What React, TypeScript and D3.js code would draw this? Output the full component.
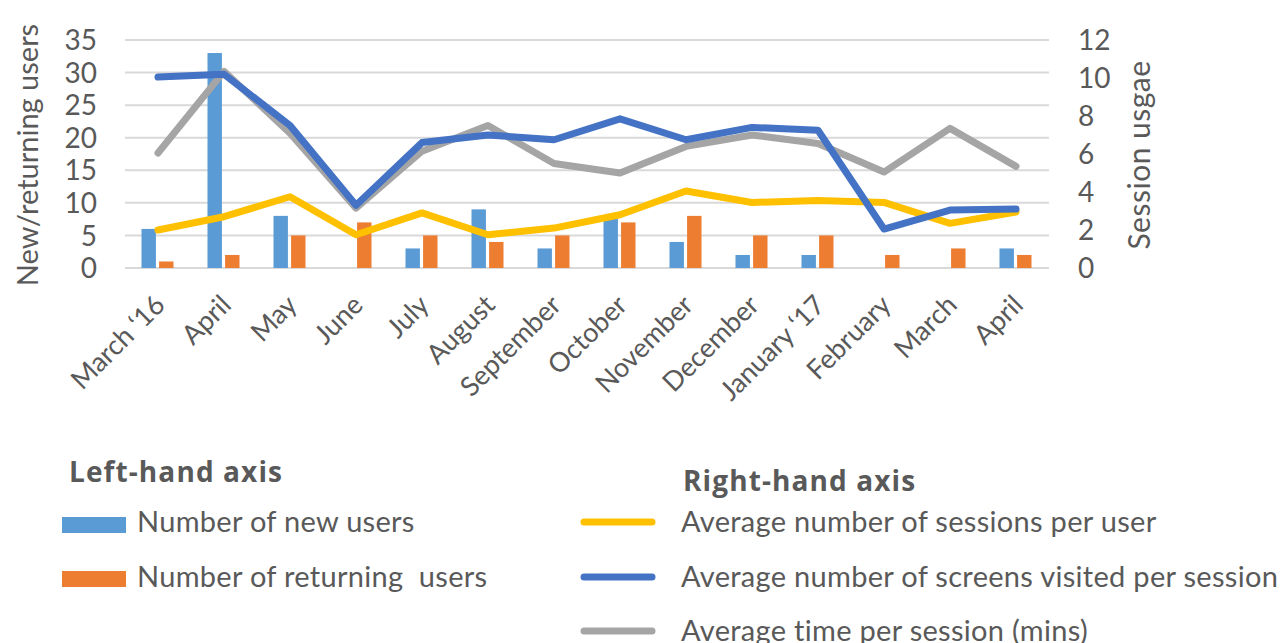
import React from "react";
import * as d3 from "d3";

const months = ["March ‘16", "April", "May", "June", "July", "August", "September", "October", "November", "December", "January ‘17", "February", "March", "April "];
const newUsers = [6, 33, 8, 0, 3, 9, 3, 8, 4, 2, 2, 0, 0, 3];
const returningUsers = [1, 2, 5, 7, 5, 4, 5, 7, 8, 5, 5, 2, 3, 2];
const sessionsPerUser = [2.0, 2.7, 3.75, 1.75, 2.9, 1.75, 2.1, 2.8, 4.05, 3.45, 3.55, 3.45, 2.35, 2.95];
const screensPerSession = [10.05, 10.2, 7.5, 3.3, 6.6, 7.0, 6.75, 7.85, 6.75, 7.4, 7.25, 2.05, 3.05, 3.1];
const timePerSession = [6.05, 10.35, 7.1, 3.15, 6.15, 7.5, 5.5, 5.0, 6.4, 7.0, 6.55, 5.05, 7.35, 5.35];
const leftTicks = [0, 5, 10, 15, 20, 25, 30, 35];
const rightTicks = [0, 2, 4, 6, 8, 10, 12];

const FONT = "Lato, 'Open Sans', sans-serif";
const BOLD_FONT = "'Open Sans', Lato, sans-serif";
const TEXT = "#595959";
const C_NEW = "#5B9BD5";
const C_RET = "#ED7D31";
const C_SESS = "#FFC000";
const C_SCREEN = "#4472C4";
const C_TIME = "#A5A5A5";

export default function App() {
  const W = 1281, H = 643;
  const x = d3.scaleBand<string>().domain(months).range([125, 1049]);
  const yL = d3.scaleLinear().domain([0, 35]).range([268, 40]);
  const yR = d3.scaleLinear().domain([0, 12]).range([268, 40]);
  const sub = d3.scaleBand<string>().domain(["new", "ret"]).range([-16.5, 15.5]).paddingInner(0.18);
  const cx = (m: string) => (x(m) as number) + x.bandwidth() / 2;

  const mkLine = (vals: number[]) =>
    d3.line<number>().x((_, i) => cx(months[i])).y((v) => yR(v))(vals) as string;

  const lines = [
    { vals: timePerSession, color: C_TIME },
    { vals: sessionsPerUser, color: C_SESS },
    { vals: screensPerSession, color: C_SCREEN },
  ];

  return (
    <svg width={W} height={H} style={{ position: "absolute", left: 0, top: 0, background: "#fff" }} fontFamily={FONT}>
      {/* gridlines */}
      {leftTicks.map((t) => (
        <line key={"g" + t} x1={125} x2={1049} y1={yL(t)} y2={yL(t)} stroke="#D9D9D9" strokeWidth={2} />
      ))}
      {/* left ticks */}
      {leftTicks.map((t) => (
        <text key={"l" + t} x={97} y={yL(t)} dy="0.36em" textAnchor="end" fontSize={28} fill={TEXT}>
          {t}
        </text>
      ))}
      {/* right ticks */}
      {rightTicks.map((t) => (
        <text key={"r" + t} x={1078} y={yR(t)} dy="0.36em" textAnchor="start" fontSize={28} fill={TEXT}>
          {t}
        </text>
      ))}
      {/* axis titles */}
      <text transform="translate(38,155) rotate(-90)" textAnchor="middle" fontSize={29} fill={TEXT}>
        New/returning users
      </text>
      <text transform="translate(1150,155) rotate(-90)" textAnchor="middle" fontSize={30} letterSpacing={0.5} fill={TEXT}>
        Session usgae
      </text>
      {/* bars */}
      {months.map((m, i) => (
        <g key={"b" + i}>
          {newUsers[i] > 0 && (
            <rect x={cx(m) + (sub("new") as number)} width={sub.bandwidth()} y={yL(newUsers[i])} height={yL(0) - yL(newUsers[i])} fill={C_NEW} />
          )}
          {returningUsers[i] > 0 && (
            <rect x={cx(m) + (sub("ret") as number)} width={sub.bandwidth()} y={yL(returningUsers[i])} height={yL(0) - yL(returningUsers[i])} fill={C_RET} />
          )}
        </g>
      ))}
      {/* lines */}
      {lines.map((l, i) => (
        <path key={"p" + i} d={mkLine(l.vals)} fill="none" stroke={l.color} strokeWidth={7} strokeLinejoin="round" strokeLinecap="round" />
      ))}
      {/* x labels */}
      {months.map((m, i) => (
        <text key={"x" + i} transform={`translate(${cx(m) + 2},${300}) rotate(-45)`} dy="0.35em" textAnchor="end" fontSize={27} fill={TEXT}>
          {m.trim()}
        </text>
      ))}
      {/* legend left */}
      <text x={69} y={482} fontSize={28} fontWeight="bold" fontFamily={BOLD_FONT} letterSpacing={1.1} fill={TEXT}>Left-hand axis</text>
      <rect x={62} y={517} width={64} height={16} fill={C_NEW} />
      <text x={137} y={532} fontSize={29} letterSpacing={0.3} fill={TEXT}>Number of new users</text>
      <rect x={62} y={571} width={64} height={16} fill={C_RET} />
      <text x={137} y={587} fontSize={29} letterSpacing={0.3} fill={TEXT} style={{ whiteSpace: "pre" }}>{"Number of returning  users"}</text>
      {/* legend right */}
      <text x={683} y={491} fontSize={28} fontWeight="bold" fontFamily={BOLD_FONT} letterSpacing={1.1} fill={TEXT}>Right-hand axis</text>
      {[
        { label: "Average number of sessions per user", color: C_SESS, y: 522 },
        { label: "Average number of screens visited per session", color: C_SCREEN, y: 577 },
        { label: "Average time per session (mins)", color: C_TIME, y: 631 },
      ].map((d, i) => (
        <g key={"lg" + i}>
          <line x1={584} x2={652} y1={d.y} y2={d.y} stroke={d.color} strokeWidth={7} strokeLinecap="round" />
          <text x={681} y={d.y} dy="0.36em" fontSize={29} letterSpacing={0.3} fill={TEXT}>{d.label}</text>
        </g>
      ))}
    </svg>
  );
}
